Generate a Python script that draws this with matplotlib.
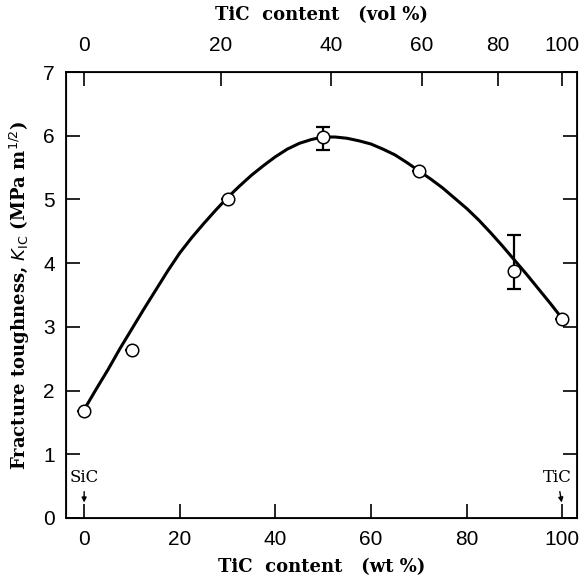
import matplotlib
matplotlib.use("Agg")
import matplotlib.pyplot as plt

# measured points: TiC content (wt %) vs K_IC (MPa m^1/2)
wt = [0, 10, 30, 50, 70, 90, 100]
kic = [1.68, 2.63, 5.0, 5.98, 5.45, 3.87, 3.12]
err_lo = [0, 0, 0, 0.20, 0, 0.28, 0]
err_hi = [0, 0, 0, 0.16, 0, 0.57, 0]

# fitted curve
curve_wt = [0, 2.5, 5, 7.5, 10, 12.5, 15, 17.5, 20, 22.5, 25, 27.5, 30, 32.5, 35, 37.5,
            40, 42.5, 45, 47.5, 50, 52.5, 55, 57.5, 60, 62.5, 65, 67.5, 70, 72.5, 75,
            77.5, 80, 82.5, 85, 87.5, 90, 92.5, 95, 97.5, 100]
curve_k = [1.70, 2.02, 2.33, 2.66, 2.97, 3.28, 3.58, 3.88, 4.16, 4.40, 4.62, 4.83, 5.03,
           5.21, 5.38, 5.53, 5.67, 5.79, 5.88, 5.94, 5.98, 5.98, 5.96, 5.92, 5.87, 5.79,
           5.70, 5.58, 5.45, 5.32, 5.18, 5.02, 4.86, 4.68, 4.48, 4.27, 4.05, 3.83, 3.60,
           3.37, 3.13]

# top axis: vol % ticks, positioned by the TiC/SiC density ratio
vol_ticks = [0, 20, 40, 60, 80, 100]
rho_ratio = 1.6

tick_font = "Liberation Sans"
label_font = "DejaVu Serif"

fig = plt.figure(figsize=(5.83, 5.79), dpi=100)
ax = fig.add_axes([0.1132, 0.1054, 0.8765, 0.7702])

ax.plot(curve_wt, curve_k, color="black", lw=2.2, zorder=2, solid_joinstyle="round")
ax.errorbar(wt, kic, yerr=[err_lo, err_hi], fmt="none", ecolor="black",
            elinewidth=1.6, capsize=5, capthick=1.6, zorder=3)
ax.plot(wt, kic, "o", ms=9, mfc="white", mec="black", mew=1.1, zorder=4)

ax.set_xlim(-3.8, 103.1)
ax.set_ylim(0, 7)
ax.set_xticks([0, 20, 40, 60, 80, 100])
ax.set_yticks(range(8))
ax.tick_params(direction="in", length=10, width=1.2, labelsize=15, pad=9)
ax.tick_params(axis="y", right=True, pad=8)
for lab in ax.get_xticklabels() + ax.get_yticklabels():
    lab.set_fontfamily(tick_font)
for sp in ax.spines.values():
    sp.set_linewidth(1.3)

top = ax.twiny()
top.set_xlim(ax.get_xlim())
vol_pos = [100 * v * rho_ratio / (v * rho_ratio + 100 - v) for v in vol_ticks]
top.set_xticks(vol_pos)
top.set_xticklabels([str(v) for v in vol_ticks], fontfamily=tick_font)
top.tick_params(direction="in", length=10, width=1.2, labelsize=15, pad=12)

ax.set_xlabel("TiC  content   (wt %)", fontfamily=label_font, fontweight="bold",
              fontsize=13, labelpad=6)
top.set_xlabel("TiC  content   (vol %)", fontfamily=label_font, fontweight="bold",
               fontsize=13, labelpad=12)
ax.set_ylabel(r"Fracture toughness, $K_{\mathrm{IC}}$ (MPa m$^{1/2}$)",
              fontfamily=label_font, fontweight="bold", fontsize=13, labelpad=8)

arrow = dict(arrowstyle="-|>", color="black", lw=1.0, mutation_scale=7)
ax.annotate("SiC", xy=(0, 0.2), xytext=(0, 0.5), ha="center", va="bottom",
            fontfamily=label_font, fontsize=12, arrowprops=arrow)
ax.annotate("TiC", xy=(100, 0.2), xytext=(99, 0.5), ha="center", va="bottom",
            fontfamily=label_font, fontsize=12, arrowprops=arrow)

fig.savefig("out.png", dpi=100)
